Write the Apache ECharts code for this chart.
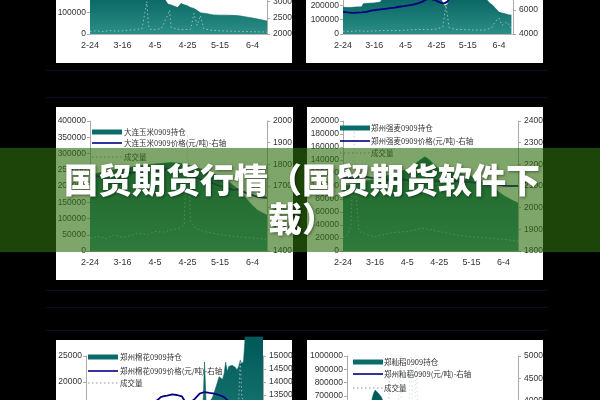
<!DOCTYPE html>
<html><head><meta charset="utf-8">
<script src="https://cdn.jsdelivr.net/npm/echarts@6/dist/echarts.min.js"></script>
<style>html,body{margin:0;padding:0;background:#000}#c{width:600px;height:400px}</style>
</head><body><div id="c"></div>
<script>
// ---------- shared tick labels ----------
const xTickLabels = ['2-24','3-16','4-5','4-25','5-15','6-4'];
const titleText = '国贸期货行情（国贸期货软件下\n载）';

// ---------- top-left panel ----------
const tlHoldDays = [0,4,8,12,16,20,24,28,32,36,40,44,46,48,50,52,54,56,58,60,62,64,66,68,72,76,80,84,88,92,96,100,104,109];
const tlHold = [205000,210000,215000,212000,220000,225000,230000,228000,225000,222000,215000,200000,160000,138000,134000,128000,122000,141000,135000,130000,122000,118000,108000,98000,94000,88000,87000,87000,86000,84000,79000,74000,68000,60000];
const tlPriceDays = [0,6,12,18,24,30,36,42,48,54,60,66,72,78,84,90,96,102,109];
const tlPrice = [3350,3380,3420,3400,3450,3500,3480,3520,3460,3400,3380,3320,3300,3280,3250,3260,3230,3200,3180];
const tlVolDays = [0,4,8,12,16,20,24,28,32,35,36,37,40,44,48,49,50,54,58,62,64,66,68,70,74,80,86,92,98,104,109];
const tlVol = [12000,15000,11000,16000,13000,15000,18000,20000,24000,150000,40000,22000,20000,25000,90000,110000,30000,22000,20000,22000,95000,40000,85000,25000,18000,15000,13000,12000,11000,10000,9000];

// ---------- top-right panel ----------
const trHoldDays = [0,4,8,12,13,16,20,24,26,30,36,42,48,54,60,63,65,67,69,72,78,84,88,90,92,94,96,98,100,102,104,106,108];
const trHold = [186000,184000,187000,189000,210000,213000,216000,222000,260000,290000,310000,320000,330000,325000,300000,240000,195000,205000,270000,320000,330000,320000,300000,270000,240000,215000,200000,175000,152000,145000,140000,134000,131000];
const trPriceDays = [0,3,6,9,12,15,18,21,24,27,30,33,36,39,42,45,48,51,53,55,57,59,61,63,65,67,69,72,78,84,90,96,102,108];
const trPrice = [5850,5800,5760,5780,5800,5850,5950,6000,6050,6100,6150,6200,6270,6320,6380,6450,6550,6700,6850,6950,6880,6820,6700,6600,6550,6700,7100,7300,7500,7600,7400,7300,7350,7200];
const trVolDays = [0,5,10,15,20,25,30,35,40,45,50,55,60,64,66,68,72,78,84,90,95,98,100,102,105,108];
const trVol = [20000,18000,22000,19000,21000,24000,25000,23000,27000,30000,32000,30000,35000,50000,200000,45000,32000,30000,28000,26000,40000,90000,110000,60000,85000,40000];

// ---------- middle-left panel (大连玉米) ----------
const mlLegend = ['大连玉米0909持仓','大连玉米0909价格(元/吨)-右轴','成交量'];
const mlHoldDays = [0,5,10,15,20,25,30,35,40,45,50,55,60,65,70,75,80,85,90,94,97,100,103,106,109];
const mlHold = [235000,240000,245000,250000,255000,258000,262000,265000,268000,270000,272000,270000,265000,258000,250000,240000,228000,215000,195000,175000,157000,140000,126000,118000,110000];
const mlPriceDays = [0,5,10,15,20,25,30,35,40,45,50,55,60,65,70,75,80,85,88,91,94,97,100,103,106,109];
const mlPrice = [1740,1745,1750,1748,1755,1760,1765,1770,1772,1775,1780,1770,1760,1740,1725,1715,1700,1690,1682,1685,1675,1665,1658,1650,1648,1645];
const mlVolDays = [0,5,10,15,20,25,30,35,40,45,50,55,58,60,61,62,65,70,75,80,85,90,95,100,105,109];
const mlVol = [40000,45000,38000,50000,42000,48000,55000,50000,60000,58000,65000,70000,80000,360000,220000,90000,70000,60000,55000,50000,48000,45000,42000,40000,38000,35000];

// ---------- middle-right panel (郑州强麦) ----------
const mrLegend = ['郑州强麦0909持仓','郑州强麦0909价格(元/吨)-右轴','成交量'];
const mrHoldDays = [0,5,10,15,20,25,30,35,40,44,48,51,54,57,60,65,70,75,80,85,90,95,98,101,104,107,109];
const mrHold = [100000,102000,105000,108000,110000,114000,118000,122000,126000,132000,140000,145000,140000,132000,126000,122000,120000,118000,115000,110000,104000,95000,89000,84000,80000,76000,74000];
const mrPriceDays = [0,6,12,18,24,30,36,42,48,54,60,66,72,78,84,90,96,100,104,109];
const mrPrice = [2140,2135,2145,2138,2130,2128,2132,2125,2130,2128,2122,2126,2120,2118,2115,2112,2108,2102,2100,2100];
const mrVolDays = [0,3,5,6,7,8,10,15,20,30,40,50,60,70,80,90,100,109];
const mrVol = [20000,25000,40000,120000,185000,90000,30000,25000,22000,28000,30000,35000,30000,25000,22000,20000,18000,15000];

// ---------- bottom-left panel (郑州棉花) ----------
const blLegend = ['郑州棉花0909持仓','郑州棉花0909价格(元/吨)-右轴','成交量'];
const blHoldDays = [0,10,20,30,40,50,60,66,70,72,73,74,76,78,80,82,84,85,86,87,88,90,92,93,94,95,96,97,98,109];
const blHold = [8000,8500,9000,9500,10000,11000,12500,13500,14500,15000,23850,15500,16000,17100,19000,21000,20500,21500,23800,22000,23000,23200,22800,22300,23000,24200,23500,24000,28650,28650];
const blPriceDays = [0,10,20,30,40,44,46,48,50,53,56,59,61,64,67,70,73,76,79,82,85,88,92,98,104,109];
const blPrice = [13000,13050,13100,13150,13200,13300,13420,13460,13480,13520,13500,13450,13250,13200,13350,13550,13615,13580,13550,13500,13420,13250,13150,13100,13080,13050];
const blVolDays = [0,10,20,30,40,50,60,70,80,90,94,95,96,100,105,109];
const blVol = [6000,7000,6500,8000,9000,10000,11000,12000,14000,15000,16000,24500,17000,15000,14000,13000];

// ---------- bottom-right panel (郑籼稻) ----------
const brLegend = ['郑籼稻0909持仓','郑州籼稻0909(元/吨)-右轴','成交量'];
const brHoldDays = [0,5,10,13,15,16,17,18,19,20,22,24,26,30,40,50,60,70,80,90,100,109];
const brHold = [350000,380000,420000,500000,600000,680000,720000,744000,735000,720000,690000,620000,550000,500000,450000,420000,400000,380000,360000,340000,320000,300000];
const brPriceDays = [0,10,20,30,40,50,60,70,80,90,100,109];
const brPrice = [2400,2420,2450,2430,2460,2480,2470,2450,2440,2430,2420,2410];
const brVolDays = [0,10,20,25,26,27,28,30,32,33,34,35,37,39,40,41,42,43,44,45,47,50,60,70,80,90,100,109];
const brVol = [150000,180000,200000,250000,500000,850000,300000,280000,350000,700000,1000000,450000,300000,400000,800000,1000000,500000,450000,1000000,600000,300000,250000,200000,180000,160000,150000,140000,130000];

// ---------- build ----------
function pairs(d, v) { return d.map((x, i) => [x, v[i]]); }

const panels = [
  {hold: pairs(tlHoldDays, tlHold), price: pairs(tlPriceDays, tlPrice), vol: pairs(tlVolDays, tlVol)},
  {hold: pairs(trHoldDays, trHold), price: pairs(trPriceDays, trPrice), vol: pairs(trVolDays, trVol)},
  {hold: pairs(mlHoldDays, mlHold), price: pairs(mlPriceDays, mlPrice), vol: pairs(mlVolDays, mlVol), legend: mlLegend},
  {hold: pairs(mrHoldDays, mrHold), price: pairs(mrPriceDays, mrPrice), vol: pairs(mrVolDays, mrVol), legend: mrLegend},
  {hold: pairs(blHoldDays, blHold), price: pairs(blPriceDays, blPrice), vol: pairs(blVolDays, blVol), legend: blLegend},
  {hold: pairs(brHoldDays, brHold), price: pairs(brPriceDays, brPrice), vol: pairs(brVolDays, brVol), legend: brLegend}
];

const layout = [
  {left:90,  top:-31, width:177, height:65,  yL:[0,300000,100000],  yR:[2000,4000,500],  clip:true},
  {left:343, top:-38, width:170, height:72,  yL:[0,500000,100000],  yR:[4000,10000,2000], clip:true},
  {left:90,  top:121, width:177, height:130, yL:[0,400000,50000],   yR:[1400,2000,100],  clip:true},
  {left:343, top:121, width:175, height:130, yL:[0,200000,20000],   yR:[1800,2400,100],  clip:true},
  {left:86,  top:356, width:177, height:130, yL:[0,25000,5000],     yR:[10000,15000,500], clip:false},
  {left:347, top:356, width:171, height:133, yL:[0,1000000,100000], yR:[2000,5000,500],  clip:true}
];
const legendPos = [null, null,
  {x:92,  rows:[132,143,157], tx:124},
  {x:340, rows:[128,141,153], tx:371},
  {x:88,  rows:[357,371,383], tx:120},
  {x:353, rows:[362,374,388], tx:384}
];
const panelRects = [
  [56,-10,236,73],[306,-10,237,73],
  [56,107,237,173],[307,107,236,173],
  [56,340,236,70],[307,340,236,70]
];

const grids = [], xAxes = [], yAxes = [], series = [], graphics = [];
const fontAx = 'Liberation Sans, Arial, sans-serif';

panelRects.forEach(r => graphics.push({type:'rect', z:-100, shape:{x:r[0], y:r[1], width:r[2], height:r[3]}, style:{fill:'#fff'}}));
[70, 97, 290, 307, 330].forEach(y => graphics.push({type:'line', z:-90, shape:{x1:45, y1:y+0.5, x2:548, y2:y+0.5}, style:{stroke:'#0b0b28', lineWidth:1}}));

layout.forEach((L, i) => {
  grids.push({left:L.left, top:L.top, width:L.width, height:L.height, containLabel:false, outerBoundsMode:'none', show:false});
  xAxes.push({
    type:'value', gridIndex:i, min:0, max:109, interval:20,
    axisLine:{show:true, onZero:false, lineStyle:{color:'#b5b5b5', width:1}},
    axisTick:{show:false}, splitLine:{show:false},
    axisLabel:{fontSize:9, color:'#333', fontFamily:fontAx, margin:7,
      formatter: v => (v % 20 === 0 && xTickLabels[v / 20]) ? xTickLabels[v / 20] : ''}
  });
  const yBase = {
    type:'value', gridIndex:i, splitLine:{show:false},
    axisLine:{show:true, lineStyle:{color:'#aaa', width:1}},
    axisTick:{show:true, length:3, lineStyle:{color:'#aaa'}},
    axisLabel:{fontSize:8.5, color:'#333', fontFamily:fontAx, margin:4, formatter: v => String(v)}
  };
  yAxes.push(Object.assign({}, yBase, {position:'left', min:L.yL[0], max:L.yL[1], interval:L.yL[2]}));
  yAxes.push(Object.assign({}, yBase, {position:'right', min:L.yR[0], max:L.yR[1], interval:L.yR[2],
    axisLabel:Object.assign({}, yBase.axisLabel, {margin:6})}));
  const P = panels[i];
  series.push({
    type:'line', xAxisIndex:i, yAxisIndex:2*i, data:P.hold, symbol:'none', clip:L.clip, z:2,
    lineStyle:{width:0.6, color:'#0b6666'},
    areaStyle:{opacity:1, color:new echarts.graphic.LinearGradient(0,0,0,1,[{offset:0,color:'#005858'},{offset:1,color:'#2a8e86'}])}
  });
  series.push({
    type:'line', xAxisIndex:i, yAxisIndex:2*i, data:P.vol, symbol:'none', clip:true, z:3,
    lineStyle:{width:1, color:'rgba(200,212,212,0.7)', type:[1.5,2.5]}
  });
  series.push({
    type:'line', xAxisIndex:i, yAxisIndex:2*i+1, data:P.price, symbol:'none', clip:true, z:4,
    lineStyle:{width:1.8, color:'#000080'}
  });
  const lp = legendPos[i];
  if (lp) {
    graphics.push({type:'rect', z:10, shape:{x:lp.x, y:lp.rows[0]-2.5, width:30, height:5}, style:{fill:'#0b6b6b'}});
    graphics.push({type:'line', z:10, shape:{x1:lp.x, y1:lp.rows[1], x2:lp.x+30, y2:lp.rows[1]}, style:{stroke:'#000080', lineWidth:1.6}});
    graphics.push({type:'line', z:10, shape:{x1:lp.x, y1:lp.rows[2], x2:lp.x+30, y2:lp.rows[2]}, style:{stroke:'#8a9a98', lineWidth:1, lineDash:[1.5,2.5]}});
    P.legend.forEach((t, k) => graphics.push({type:'text', z:10, x:lp.tx, y:lp.rows[k],
      style:{text:t, fontSize:7.5, fill:'#333', fontFamily:'Noto Sans CJK SC, sans-serif', verticalAlign:'middle', align:'left'}}));
  }
});

// banner overlay + title
graphics.push({type:'rect', z:100, shape:{x:0, y:148, width:600, height:104}, style:{fill:'rgba(48,112,14,0.62)'}});
graphics.push({type:'text', z:101, x:302, y:200,
  style:{text:titleText, fontSize:34, fontWeight:900, fill:'#fff', align:'center', verticalAlign:'middle',
    lineHeight:39, fontFamily:'Noto Sans CJK SC, sans-serif', textShadowColor:'rgba(0,0,0,0.45)', textShadowBlur:3, textShadowOffsetX:1, textShadowOffsetY:1}});

const chart = echarts.init(document.getElementById('c'), null, {renderer:'canvas', width:600, height:400});
chart.setOption({
  animation:false,
  backgroundColor:'#000',
  grid:grids, xAxis:xAxes, yAxis:yAxes, series:series,
  graphic:graphics
});
</script>
</body></html>
